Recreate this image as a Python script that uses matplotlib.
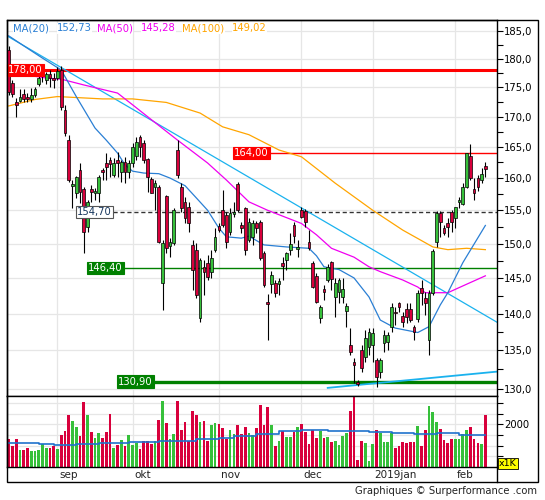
import numpy as np
import matplotlib
matplotlib.use("Agg")
import matplotlib.pyplot as plt
from matplotlib.ticker import FixedLocator, FuncFormatter, NullFormatter
from matplotlib.lines import Line2D
from matplotlib.patches import Rectangle

# ---------------- data ----------------
opens = [181.6,175.8,172.5,172.7,173.9,173.4,173.0,173.7,175.6,177.0,
         176.3,177.3,176.6,176.6,178.0,171.1,166.1,158.8,157.7,161.3,
         158.3,152.4,158.3,157.7,157.7,161.3,162.4,162.9,160.5,162.9,
         161.0,162.5,161.0,162.4,163.5,166.6,165.6,163.0,159.9,158.6,
         158.6,144.3,157.2,149.6,150.1,164.5,158.6,156.3,155.5,149.8,
         149.1,139.4,146.6,147.2,145.9,149.1,152.6,155.0,154.3,151.7,
         154.5,159.1,152.7,155.4,150.5,151.0,153.0,153.2,148.6,141.6,
         144.1,144.3,144.1,147.2,147.6,149.1,152.7,149.2,155.0,154.9,
         150.2,147.2,145.3,139.4,143.4,144.7,147.3,142.3,143.0,142.3,
         140.4,135.7,133.5,130.9,135.1,134.1,135.5,135.7,133.7,132.2,
         136.0,136.1,138.2,140.2,141.5,139.7,140.6,140.6,138.2,139.3,
         143.6,142.2,136.4,142.9,150.2,154.6,152.3,153.0,154.7,153.8,
         156.3,156.0,158.6,163.5,158.3,160.0,159.7,161.9]
highs = [182.3,176.3,173.2,174.7,174.7,174.0,174.9,175.1,177.0,177.7,
         177.7,178.0,177.5,178.5,178.7,172.0,167.0,159.7,160.3,162.4,
         158.6,156.6,158.9,158.4,160.5,161.6,164.0,163.4,163.2,164.2,
         162.9,163.4,162.9,165.6,166.6,167.0,166.1,163.2,160.2,159.7,
         158.9,150.5,157.4,150.8,155.4,166.1,159.2,157.1,156.3,150.5,
         150.1,147.9,147.6,148.3,149.1,152.3,153.0,158.2,154.7,155.4,
         156.3,159.4,153.2,155.5,153.8,153.5,153.3,153.5,148.9,142.7,
         146.0,144.7,145.0,148.0,148.8,151.5,153.2,150.5,155.5,155.2,
         152.0,147.5,145.7,141.2,144.0,147.0,147.5,145.0,145.0,145.0,
         141.5,138.0,134.0,131.1,135.7,137.8,138.0,138.0,134.0,134.0,
         137.8,137.5,141.5,140.9,141.6,140.2,141.5,141.5,138.4,143.3,
         144.7,143.0,143.3,149.2,154.9,154.9,152.7,153.8,155.0,155.5,
         157.1,159.2,164.0,165.5,160.0,160.5,161.6,162.5]
lows = [173.7,173.4,169.9,172.4,172.4,172.5,172.4,173.4,175.2,175.9,
        175.6,175.1,174.9,176.3,171.1,166.8,159.4,155.4,156.9,156.1,
        148.6,151.7,156.3,156.6,156.3,159.7,159.7,160.2,160.2,160.2,
        159.4,159.2,160.0,161.7,162.9,163.4,162.4,157.8,157.7,155.0,
        150.1,140.5,148.6,148.0,149.8,160.0,154.7,153.0,151.7,143.3,
        142.2,138.8,142.6,144.7,145.0,148.8,151.7,152.4,149.3,151.3,
        154.0,154.7,151.5,148.3,150.2,149.8,151.5,147.6,143.7,136.4,
        142.9,142.3,142.6,144.7,146.2,148.3,150.1,148.0,153.8,152.4,
        149.1,143.6,141.5,138.7,141.9,144.4,143.3,139.5,141.5,141.5,
        138.2,134.4,130.7,130.3,132.2,133.4,134.4,133.4,130.2,131.4,
        134.8,135.1,137.5,138.4,140.2,138.2,138.7,138.8,136.4,138.8,
        141.2,139.8,134.4,142.6,149.5,151.0,151.3,151.0,151.7,152.3,
        155.4,155.8,158.4,159.7,156.6,158.0,159.2,160.2]
closes = [174.2,173.9,172.0,173.4,173.0,173.0,173.7,174.7,176.6,177.1,
          177.3,176.6,176.3,177.8,171.7,167.3,159.7,159.1,160.2,157.8,
          151.7,156.3,157.8,158.0,160.2,161.0,161.7,162.2,162.4,162.4,
          162.5,161.0,162.4,165.0,165.8,165.0,162.9,160.2,157.7,159.2,
          150.2,150.1,149.3,150.2,155.0,160.5,155.4,153.8,153.0,146.2,
          142.6,147.6,145.9,145.1,147.9,151.0,152.0,152.7,150.2,154.6,
          154.8,155.0,152.3,149.1,153.2,153.0,152.3,147.9,144.0,141.3,
          145.4,142.9,144.6,146.7,148.6,149.9,151.1,149.5,154.0,153.2,
          149.3,143.7,141.6,140.9,143.0,146.6,144.8,144.3,144.7,143.4,
          141.1,134.8,133.1,130.6,132.7,136.7,137.5,137.4,131.5,133.7,
          137.1,137.1,140.9,140.1,140.9,138.8,139.5,139.1,137.5,142.9,
          142.9,141.5,142.9,148.9,154.6,153.2,151.5,152.4,153.2,155.5,
          156.6,158.6,164.0,160.0,157.7,158.6,160.7,161.4]
volumes = [1310,997,1310,796,796,889,749,749,796,1076,
           889,889,983,856,1498,1685,2434,2153,1872,1451,
           3042,2434,1638,1371,1591,1371,1638,2480,889,1030,
           1264,983,1498,1030,1137,842,1217,1217,1076,1217,
           2200,3089,2059,1310,1558,3089,1732,2106,1217,2621,
           2434,2106,2153,1217,1966,2059,2026,1825,1310,1732,
           1544,1966,1544,1872,1591,1498,1825,2902,1966,2808,
           1966,983,1217,1699,1404,1404,1652,1872,2012,1652,
           1076,1732,1357,1685,1357,1404,1170,1217,1030,1451,
           1605,2635,3500,328,1217,1137,281,1076,1732,1591,
           1170,1170,1605,889,997,1184,1123,1170,1184,1919,
           983,1732,2855,2588,2106,1778,1264,1137,1310,1310,
           1310,1544,1732,1872,1310,1123,1076,2434]

ma20_x = [0,4,9,14,18,23,26,29,31,33,36,40,43,47,50,53,56,58,62,64,68,74,80,82,84,88,92,96,99,103,109,112,115,117,121,127]
ma20_v = [184.1,182.3,180.1,178.0,173.4,168.1,166.1,164.0,162.1,161.1,160.8,160.7,160.0,158.8,156.9,155.0,
          152.3,151.0,150.8,151.1,149.8,149.5,149.3,148.2,146.6,146.2,145.0,142.3,139.1,138.0,137.4,138.2,
          141.2,142.9,147.2,152.7]
ma50_x = [6,10,14,20,29,33,38,45,53,58,64,69,78,82,86,92,96,99,105,109,111,117,122,127]
ma50_v = [177.0,176.6,176.4,175.4,174.0,172.0,169.5,166.1,162.4,159.7,156.3,155.0,153.0,151.3,149.3,148.0,
          146.6,145.9,144.7,143.7,142.9,142.9,144.1,145.3]
ma100_x = [0,7,13,25,33,42,51,57,64,72,78,87,97,105,113,117,122,127]
ma100_v = [171.8,172.9,173.4,173.0,173.0,172.4,170.6,168.3,167.0,164.5,163.4,159.2,155.0,152.0,149.5,149.1,149.3,149.1]

volma_x = [0,8,12,18,24,32,40,46,50,56,60,66,72,78,85,92,96,102,108,114,120,127]
volma_v = [1137,1076,1030,1076,1137,1184,1217,1230,1296,1371,1465,1530,1699,1732,1685,1685,1624,1605,1544,1591,1498,1498]

trend_down_x = [-0.45, 130.1]
trend_down_v = [184.1, 138.8]
trend_up_x = [85, 130.1]
trend_up_v = [130.1, 132.2]

levels = [178.00, 164.00, 154.70, 146.40, 130.90]
level_labels = ["178,00", "164,00", "154,70", "146,40", "130,90"]

month_idx = [13, 33, 56, 78, 97, 119]
month_labels = ["sep", "okt", "nov", "dec", "2019jan", "feb"]

legend_names = ["MA(20)", "MA(50)", "MA(100)"]
legend_values = ["152,73", "145,28", "149,02"]

# ---------------- styling ----------------
RED = "#d8003c"
GREEN = "#36c03a"
C20 = "#2a7fd4"
C50 = "#f000f0"
C100 = "#ffa500"
CTR = "#1ab2ee"
GRID = "#e6e6e6"

W, H = 545, 500
def fx(px): return px / W
def fy(py): return 1 - py / H

fig = plt.figure(figsize=(W / 100, H / 100), dpi=100)
ax = fig.add_axes([fx(7), fy(396), 490 / W, 376 / H])
axv = fig.add_axes([fx(7), fy(467), 490 / W, 71 / H], sharex=ax)

N = len(closes)
x = np.arange(N)
o = np.array(opens); c = np.array(closes); h = np.array(highs); l = np.array(lows)
up = c >= o
cols = np.where(up, GREEN, RED)

# main panel
ax.set_yscale("log")
ax.set_ylim(129.06, 187.0)
ax.set_xlim(-0.45, 130.1)
majors = list(range(130, 186, 5))
minors = [m + 2.5 for m in range(130, 185, 5)]
ax.yaxis.set_major_locator(FixedLocator(majors))
ax.yaxis.set_minor_locator(FixedLocator(minors))
ax.yaxis.set_major_formatter(FuncFormatter(lambda v, p: f"{v:.1f}".replace(".", ",")))
ax.yaxis.set_minor_formatter(NullFormatter())
ax.yaxis.tick_right()
ax.tick_params(axis="y", which="both", direction="out", length=4, width=0.8, labelsize=7.2, pad=1)
ax.tick_params(axis="x", which="both", bottom=False, labelbottom=False)
ax.grid(axis="y", which="major", color=GRID, lw=0.9, zorder=0)
for m in month_idx:
    ax.axvline(m, color=GRID, lw=0.9, zorder=0)
for s in ax.spines.values():
    s.set_linewidth(1.0)

# horizontal levels
def idx_of(px):
    return (px - 8.3) / 3.76
ax.axhline(levels[0], color="#ff0000", lw=2.2, zorder=1.5)
ax.hlines(levels[1], idx_of(270), 130.1, color="#ff0000", lw=1.0, zorder=1.5)
ax.hlines(levels[2], idx_of(113), 130.1, color="#333333", lw=1.0, linestyles=(0, (3, 2)), zorder=1.5)
ax.hlines(levels[3], idx_of(124), 130.1, color="#008000", lw=1.0, zorder=1.5)
ax.hlines(levels[4], idx_of(154), 130.1, color="#008000", lw=2.4, zorder=1.5)

# trendlines & MAs
ax.plot(trend_down_x, trend_down_v, color=CTR, lw=0.9, zorder=2)
ax.plot(trend_up_x, trend_up_v, color=CTR, lw=1.3, zorder=2)
ax.plot(ma100_x, ma100_v, color=C100, lw=0.9, zorder=2.2)
ax.plot(ma50_x, ma50_v, color=C50, lw=0.9, zorder=2.2)
ax.plot(ma20_x, ma20_v, color=C20, lw=0.9, zorder=2.2)

# candles
ax.vlines(x, l, h, color="black", lw=0.8, zorder=3)
bot = np.minimum(o, c)
hgt = np.maximum(np.abs(c - o), 0.15)
ax.bar(x, hgt, bottom=bot, width=0.72, color=cols, edgecolor="black", linewidth=0.5, zorder=4)

# level labels
lab_x = [idx_of(25), idx_of(251.5), idx_of(94.5), idx_of(105), idx_of(135)]
styles = [
    dict(fc="#ff0000", ec="#ff0000", tc="white"),
    dict(fc="#ff0000", ec="#ff0000", tc="white"),
    dict(fc="white", ec="#555555", tc="#17365d"),
    dict(fc="#008000", ec="#008000", tc="white"),
    dict(fc="#008000", ec="#008000", tc="white"),
]
for lx, lv, lt, st in zip(lab_x, levels, level_labels, styles):
    ax.text(lx, lv, lt, ha="center", va="center", fontsize=7.2, color=st["tc"], zorder=6,
            bbox=dict(boxstyle="square,pad=0.12", fc=st["fc"], ec=st["ec"], lw=0.8))

# legend
leg_pos = [(13, 57), (97, 141), (182, 232)]
leg_cols = [C20, C50, C100]
for (nx, vx), nm, vv, cc in zip(leg_pos, legend_names, legend_values, leg_cols):
    fig.text(fx(nx), fy(28.5), nm, color=cc, fontsize=7.2, ha="left", va="center",
             bbox=dict(boxstyle="square,pad=0.05", fc="white", ec="none"))
    fig.text(fx(vx), fy(28.5), vv, color=cc, fontsize=7.2, ha="left", va="center",
             bbox=dict(boxstyle="square,pad=0.05", fc="white", ec="none"))

# volume panel
axv.bar(x, volumes, width=0.72, color=cols, linewidth=0, zorder=2)
axv.plot(volma_x, volma_v, color="#1f72cc", lw=1.2, drawstyle="steps-post", zorder=3)
axv.set_ylim(0, 3330)
axv.yaxis.tick_right()
axv.yaxis.set_major_locator(FixedLocator([500, 1000, 1500, 2000, 2500, 3000]))
axv.yaxis.set_major_formatter(FuncFormatter(lambda v, p: "2000" if abs(v - 2000) < 1 else ""))
axv.tick_params(axis="y", direction="out", length=4, width=0.8, labelsize=7.2, pad=1)
axv.grid(axis="y", color=GRID, lw=0.9, zorder=0)
axv.yaxis.grid(True)
for m in month_idx:
    axv.axvline(m, color=GRID, lw=0.9, zorder=0)
axv.set_xticks([m + 0.5 for m in month_idx])
axv.set_xticklabels(month_labels)
for t in axv.get_xticklabels():
    t.set_ha("left")
axv.tick_params(axis="x", length=0, labelsize=7.5, pad=2.5, labelcolor="#222222")
for s in axv.spines.values():
    s.set_linewidth(1.0)

# outer frame
fig.add_artist(Rectangle((fx(7), fy(482)), 531 / W, 462 / H, fill=False, ec="black", lw=1.0,
                         transform=fig.transFigure))
fig.add_artist(Line2D([fx(497), fx(497)], [fy(482), fy(467)], color="black", lw=1.0,
                      transform=fig.transFigure))

fig.text(fx(508), fy(463.5), "x1K", fontsize=6.8, ha="center", va="center",
         bbox=dict(boxstyle="square,pad=0.15", fc="#ffff00", ec="black", lw=0.6))
fig.text(fx(537), fy(491), "Graphiques \u00a9 Surperformance .com", fontsize=7.2, ha="right",
         va="center", color="#222222")

fig.savefig("out.png", dpi=100)
